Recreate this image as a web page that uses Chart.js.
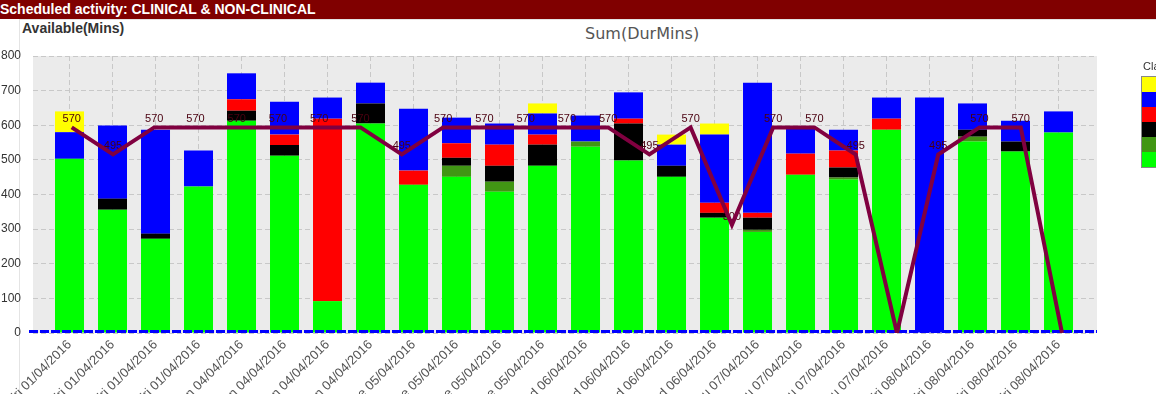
<!DOCTYPE html>
<html>
<head>
<meta charset="utf-8">
<script src="https://cdn.jsdelivr.net/npm/chart.js@4.4.1/dist/chart.umd.min.js"></script>
<style>
  html, body { margin: 0; padding: 0; background: #fff; overflow: hidden; width: 1156px; height: 394px; }
  #head { position: absolute; left: 0; top: 0; width: 1156px; height: 19px; background: #800000; color: #fff;
          font: bold 14px "Liberation Sans", Arial, sans-serif; line-height: 19px; white-space: nowrap; }
  #frame { position: absolute; left: 19px; top: 19px; width: 1200px; height: 400px;
           border-left: 1px solid #e4e4e4; border-top: 1px solid #e4e4e4; }
  #wrap { position: absolute; left: 0; top: 19px; width: 1156px; height: 375px; }
  #ytitle { position: absolute; left: 22px; top: 20px; font: bold 14px "Liberation Sans", Arial, sans-serif; color: #333; }
  #ctitle { position: absolute; left: 585px; top: 24px; font: 16px "DejaVu Sans", sans-serif; color: #555; white-space: nowrap; }
  #legend { position: absolute; left: 1143px; top: 60px; font: 11px "Liberation Sans", Arial, sans-serif; color: #333; white-space: nowrap; }
  #legend .boxes { margin-top: 4px; margin-left: -2px; border: 1px solid #888; width: 40px; }
  #legend .box { height: 15px; }
</style>
</head>
<body>
<div id="head">Scheduled activity: CLINICAL &amp; NON-CLINICAL</div>
<div id="frame"></div>
<div id="ytitle">Available(Mins)</div>
<div id="ctitle">Sum(DurMins)</div>
<div id="wrap"><canvas id="chart" width="1156" height="375"></canvas></div>
<div id="legend"></div>
<script>
// session labels (one bar each)
const labels = [
  "Fri 01/04/2016", "Fri 01/04/2016", "Fri 01/04/2016", "Fri 01/04/2016",
  "Mon 04/04/2016", "Mon 04/04/2016", "Mon 04/04/2016", "Mon 04/04/2016",
  "Tue 05/04/2016", "Tue 05/04/2016", "Tue 05/04/2016", "Tue 05/04/2016",
  "Wed 06/04/2016", "Wed 06/04/2016", "Wed 06/04/2016", "Wed 06/04/2016",
  "Thu 07/04/2016", "Thu 07/04/2016", "Thu 07/04/2016", "Thu 07/04/2016",
  "Fri 08/04/2016", "Fri 08/04/2016", "Fri 08/04/2016", "Fri 08/04/2016"
];

// stacked minutes, bottom to top
const clinical    = [503, 356, 272, 423, 613, 512, 92, 605, 428, 451, 408, 483, 538, 498, 451, 333, 292, 457, 443, 587, 0, 553, 524, 579];
const supporting  = [0, 0, 0, 0, 0, 0, 0, 0, 0, 32, 29, 0, 15, 0, 0, 0, 6, 0, 6, 0, 0, 14, 0, 0];
const admin       = [0, 32, 15, 0, 29, 31, 0, 58, 0, 23, 46, 61, 0, 107, 32, 14, 35, 0, 29, 0, 0, 20, 29, 0];
const teaching    = [0, 0, 0, 0, 33, 30, 527, 0, 41, 42, 61, 29, 0, 14, 0, 29, 14, 61, 49, 32, 0, 0, 0, 0];
const nonClinical = [77, 211, 300, 104, 75, 95, 61, 60, 179, 74, 61, 61, 75, 76, 61, 197, 376, 75, 60, 61, 680, 76, 60, 61];
const other       = [60, 0, 0, 0, 0, 0, 0, 0, 0, 0, 0, 29, 0, 0, 29, 32, 0, 0, 0, 0, 0, 0, 0, 0];

// available minutes line
const availableMins = [570, 495, 570, 570, 570, 570, 570, 570, 495, 570, 570, 570, 570, 570, 495, 570, 300, 570, 570, 495, 0, 495, 570, 570, 0];

const barSeries = [
  { name: "Clinical", values: clinical, color: "#00ff00" },
  { name: "Supporting", values: supporting, color: "#419614" },
  { name: "Admin", values: admin, color: "#000000" },
  { name: "Teaching", values: teaching, color: "#ff0000" },
  { name: "Non-clinical", values: nonClinical, color: "#0000ff" },
  { name: "Other", values: other, color: "#ffff00" }
];

Chart.defaults.font.family = '"Liberation Sans", Arial, sans-serif';

// legend (cut off at the right edge like the original)
const legendEl = document.getElementById("legend");
let legendHtml = '<div>Classification</div><div class="boxes">';
barSeries.slice().reverse().forEach(s => {
  legendHtml += `<div class="box" style="background:${s.color}"></div>`;
});
legendEl.innerHTML = legendHtml + "</div>";

const datasets = barSeries.map(s => ({
  type: "bar",
  label: s.name,
  data: s.values.map((v, i) => ({ x: i, y: v })),
  backgroundColor: s.color,
  borderWidth: 0,
  grouped: false,
  maxBarThickness: 29,
  order: 1
}));

datasets.push({
  type: "line",
  label: "Available",
  data: availableMins.map((v, i) => ({ x: i, y: v })),
  xAxisID: "xl",
  yAxisID: "yl",
  borderColor: "#800040",
  borderWidth: 4,
  pointRadius: 0,
  tension: 0,
  order: 0
});
const lineIndex = datasets.length - 1;

// grey plot background
const plotBg = {
  id: "plotBg",
  beforeDraw(chart) {
    const { ctx, chartArea: a } = chart;
    ctx.save();
    ctx.fillStyle = "#ebebeb";
    ctx.fillRect(a.left, a.top, a.right - a.left, a.bottom - a.top);
    ctx.restore();
  }
};

// blue dashed zero line + values over the line
const overlays = {
  id: "overlays",
  beforeDatasetDraw(chart, args) {
    if (args.index !== lineIndex) return;
    const { ctx, chartArea: a } = chart;
    const y0 = chart.scales.y.getPixelForValue(0);
    ctx.save();
    ctx.strokeStyle = "#0000ff";
    ctx.lineWidth = 3;
    ctx.setLineDash([9, 2]);
    ctx.beginPath();
    ctx.moveTo(a.left - 4, y0 - 1.5);
    ctx.lineTo(a.right, y0 - 1.5);
    ctx.stroke();
    ctx.setLineDash([]);

    const meta = chart.getDatasetMeta(lineIndex);
    ctx.font = '11px "Liberation Sans", Arial, sans-serif';
    ctx.fillStyle = "#4a0010";
    ctx.textAlign = "center";
    ctx.textBaseline = "middle";
    meta.data.forEach((pt, i) => {
      if (availableMins[i] === 0) return;
      ctx.fillText(String(availableMins[i]), pt.x, pt.y - 8);
    });
    ctx.restore();
  }
};

new Chart(document.getElementById("chart"), {
  type: "bar",
  data: { datasets: datasets },
  plugins: [plotBg, overlays],
  options: {
    responsive: false,
    animation: false,
    layout: { padding: { top: 37, right: 59, left: 0, bottom: 0 } },
    plugins: {
      legend: { display: false },
      tooltip: { enabled: false }
    },
    scales: {
      x: {
        type: "linear",
        stacked: true,
        offset: false,
        min: -0.849,
        max: 23.895,
        grid: { color: "#c8c8c8", drawTicks: false, offset: false },
        border: { display: false, dash: [5, 3] },
        ticks: {
          stepSize: 1,
          includeBounds: false,
          autoSkip: false,
          minRotation: 45,
          maxRotation: 45,
          padding: 4,
          color: "#555",
          font: { size: 13 },
          callback: v => labels[v] !== undefined ? labels[v] : ""
        },
        afterFit: s => { s.paddingLeft = 0; s.paddingRight = 0; s.height = 61; }
      },
      y: {
        stacked: true,
        min: 0,
        max: 800,
        grid: { color: "#c8c8c8", drawTicks: false },
        border: { display: false, dash: [5, 3] },
        ticks: { stepSize: 100, padding: 12, color: "#333", font: { size: 12 } },
        afterFit: s => { s.width = 33; }
      },
      xl: { type: "linear", display: false, offset: false, min: -0.938, max: 24.848 },
      yl: { type: "linear", display: false, min: 0, max: 768 }
    }
  }
});
</script>
</body>
</html>
